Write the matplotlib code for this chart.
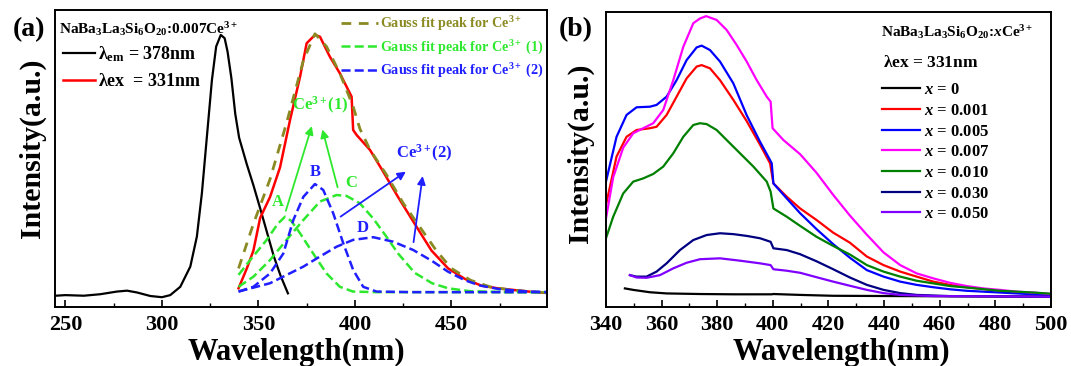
import matplotlib
matplotlib.use("Agg")
import matplotlib.pyplot as plt
from matplotlib.ticker import MultipleLocator

plt.rcParams['font.family'] = ['Liberation Serif', 'DejaVu Serif']
plt.rcParams['font.weight'] = 'bold'
plt.rcParams['mathtext.fontset'] = 'custom'
plt.rcParams['mathtext.rm'] = 'Liberation Serif:bold'
plt.rcParams['mathtext.it'] = 'Liberation Serif:italic:bold'
plt.rcParams['mathtext.bf'] = 'Liberation Serif:bold'
plt.rcParams['mathtext.default'] = 'rm'
plt.rcParams['lines.scale_dashes'] = False

# ---------------- Panel (a) data ----------------
ex_nm = [244.8, 250, 259.5, 268, 276.7, 281.9, 287, 294, 300, 304.3, 309.5, 314.7, 318.1, 320.7,
         323.3, 325.9, 328.1, 330.5, 332.5, 334, 336, 338, 340, 344, 347.4, 351, 354.5, 358, 361.5, 365.3]
ex_I = [0.038, 0.040, 0.038, 0.043, 0.052, 0.055, 0.049, 0.037, 0.033, 0.040, 0.068, 0.136, 0.237, 0.383,
        0.574, 0.764, 0.877, 0.916, 0.905, 0.86, 0.77, 0.65, 0.57, 0.48, 0.41, 0.33, 0.25, 0.17, 0.105, 0.046]

em_nm = [339.7, 344, 347.4, 350.9, 356, 361.2, 366.4, 371.6, 375, 379.3, 381.9, 387, 392.2, 398.3,
         399.1, 400.9, 407.8, 413.8, 422.4, 431, 439.7, 444, 448.3, 456.9, 465.5, 474, 482.8, 490, 500]
em_I = [0.063, 0.13, 0.19, 0.30, 0.37, 0.47, 0.63, 0.776, 0.888, 0.916, 0.91, 0.843, 0.787, 0.708,
        0.596, 0.579, 0.529, 0.465, 0.37, 0.28, 0.19, 0.16, 0.13, 0.095, 0.072, 0.063, 0.057, 0.052, 0.047]

fit_nm = [339.7, 347.4, 356, 364.6, 373.3, 379.3, 385.3, 392.2, 399.1, 402.6, 407.8, 416.4, 425,
          433.6, 442.2, 450, 460, 470, 480, 490, 500]
fit_I = [0.13, 0.28, 0.43, 0.62, 0.83, 0.92, 0.877, 0.787, 0.675, 0.6, 0.53, 0.445, 0.35, 0.27,
         0.19, 0.13, 0.09, 0.068, 0.058, 0.052, 0.048]

gA_nm = [339.7, 345.7, 354.3, 360, 363.8, 367, 371.6, 378.4, 385.3, 392.2, 399, 410, 430, 460, 500]
gA_I = [0.108, 0.158, 0.226, 0.28, 0.304, 0.29, 0.248, 0.18, 0.113, 0.068, 0.052, 0.05, 0.05, 0.05, 0.05]

gC_nm = [339.7, 347.4, 356, 364.6, 373.3, 381.9, 390.5, 395.7, 402.6, 409.5, 416, 422.4, 431, 440,
         448.3, 460, 480, 500]
gC_I = [0.068, 0.102, 0.158, 0.226, 0.293, 0.355, 0.377, 0.374, 0.349, 0.298, 0.24, 0.18, 0.115, 0.08,
        0.063, 0.053, 0.05, 0.05]

gB_nm = [339.7, 347.4, 356, 362.9, 368.1, 373.3, 379.3, 383.6, 388.8, 394, 399.1, 404.3, 411.2, 430, 460, 500]
gB_I = [0.052, 0.068, 0.113, 0.18, 0.293, 0.371, 0.414, 0.394, 0.315, 0.214, 0.125, 0.068, 0.052, 0.05, 0.05, 0.05]

gD_nm = [339.7, 356, 373.3, 381.9, 390.5, 399.1, 409.5, 419.8, 430.2, 440, 448, 457, 465, 475, 490, 500]
gD_I = [0.052, 0.08, 0.136, 0.17, 0.203, 0.226, 0.235, 0.22, 0.192, 0.155, 0.12, 0.09, 0.072, 0.06, 0.052, 0.05]

# ---------------- Panel (b) data ----------------
b_x0_nm = [346.8, 349.8, 355.8, 361.8, 373.8, 385.8, 399.6, 400.2, 409.8, 421.7, 445.8, 470, 500]
b_x0_I = [0.063, 0.058, 0.05, 0.046, 0.044, 0.043, 0.043, 0.044, 0.041, 0.038, 0.037, 0.036, 0.035]

b_x001_nm = [340, 343.8, 347.4, 351, 355.8, 358.2, 361.8, 365.4, 369, 372.6, 374.4, 377.4, 381, 385.8,
             390.6, 395.4, 399, 400.2, 405, 409.8, 415.7, 421.7, 427.7, 433.8, 439.8, 445.8, 451.7,
             457.7, 463.7, 469.7, 481.7, 493.7, 500]
b_x001_I = [0.346, 0.51, 0.577, 0.6, 0.606, 0.611, 0.651, 0.713, 0.775, 0.815, 0.82, 0.809, 0.769, 0.702,
            0.63, 0.55, 0.487, 0.419, 0.374, 0.334, 0.295, 0.252, 0.218, 0.171, 0.142, 0.12, 0.103,
            0.086, 0.075, 0.067, 0.055, 0.046, 0.043]

b_x005_nm = [340, 343.8, 347.4, 351, 355.8, 358.2, 361.8, 365.4, 369, 372.6, 374.4, 377.4, 381, 385.8,
             390.6, 395.4, 399, 399.6, 400.2, 405, 409.8, 415.7, 421.7, 427.7, 433.8, 439.8, 445.8,
             451.7, 457.7, 463.7, 469.7, 481.7, 493.7, 500]
b_x005_I = [0.425, 0.577, 0.651, 0.677, 0.679, 0.685, 0.713, 0.769, 0.837, 0.88, 0.886, 0.871, 0.832, 0.758,
            0.65, 0.56, 0.498, 0.487, 0.419, 0.368, 0.318, 0.264, 0.213, 0.167, 0.125, 0.103, 0.086,
            0.075, 0.067, 0.06, 0.055, 0.049, 0.043, 0.04]

b_x007_nm = [340, 342.6, 346.2, 349.8, 353.4, 357, 360.6, 364.2, 367.8, 371.4, 373.8, 376, 379.8, 383.4,
             387, 390.6, 394.2, 397.8, 399.2, 399.9, 403.8, 409.8, 415.7, 421.7, 427.7, 433.8, 439.8,
             445.8, 451.7, 457.7, 463.7, 469.7, 475.7, 481.7, 487.7, 493.7, 500]
b_x007_I = [0.30, 0.44, 0.54, 0.589, 0.606, 0.623, 0.668, 0.769, 0.882, 0.962, 0.978, 0.986, 0.973, 0.939,
            0.888, 0.832, 0.769, 0.713, 0.696, 0.606, 0.566, 0.518, 0.455, 0.38, 0.31, 0.245, 0.185,
            0.142, 0.114, 0.097, 0.082, 0.071, 0.063, 0.058, 0.052, 0.049, 0.044]

b_x010_nm = [340, 342.6, 346.2, 349.8, 353.4, 357, 360.6, 364.2, 367.8, 371.4, 373.8, 376.2, 379.8, 383.4,
             388.2, 393, 397.8, 399.2, 400.2, 405, 409.8, 415.7, 421.7, 427.7, 433.8, 439.8, 445.8,
             451.7, 457.7, 463.7, 469.7, 481.7, 493.7, 500]
b_x010_I = [0.233, 0.306, 0.385, 0.425, 0.436, 0.451, 0.476, 0.521, 0.577, 0.617, 0.623, 0.62, 0.6, 0.566,
            0.521, 0.476, 0.425, 0.391, 0.334, 0.306, 0.275, 0.238, 0.207, 0.178, 0.142, 0.12, 0.103,
            0.089, 0.08, 0.071, 0.066, 0.055, 0.049, 0.045]

b_x030_nm = [348.6, 351, 354.6, 358.2, 361.8, 366.6, 371.4, 376.2, 381, 385.8, 390.6, 395.4, 399.2, 400.2,
             405, 409.8, 415.7, 421.7, 427.7, 433.8, 439.8, 445.8, 451.7, 463.7, 480, 500]
b_x030_I = [0.108, 0.103, 0.103, 0.12, 0.148, 0.193, 0.227, 0.244, 0.25, 0.247, 0.241, 0.233, 0.221, 0.199,
            0.193, 0.179, 0.155, 0.128, 0.1, 0.075, 0.058, 0.047, 0.041, 0.037, 0.036, 0.035]

b_x050_nm = [348.6, 351, 354.6, 359.4, 364.2, 369, 373.8, 381, 388.2, 395.4, 399.2, 400.2, 405, 409.8,
             415.7, 421.7, 427.7, 433.8, 439.8, 445.8, 457.7, 480, 500]
b_x050_I = [0.108, 0.1, 0.099, 0.108, 0.131, 0.15, 0.162, 0.165, 0.157, 0.148, 0.142, 0.128, 0.123, 0.116,
            0.101, 0.086, 0.072, 0.058, 0.047, 0.041, 0.037, 0.036, 0.035]

b_labels = ['0', '0.001', '0.005', '0.007', '0.010', '0.030', '0.050']
b_colors = ['#000000', '#ff0000', '#0000ff', '#ff00ff', '#008000', '#000080', '#8000ff']
b_series = [(b_x0_nm, b_x0_I), (b_x001_nm, b_x001_I), (b_x005_nm, b_x005_I), (b_x007_nm, b_x007_I),
            (b_x010_nm, b_x010_I), (b_x030_nm, b_x030_I), (b_x050_nm, b_x050_I)]

GREEN = '#2ee82e'
BLUE = '#1f1fff'
OLIVE = '#8b8a22'

fig = plt.figure(figsize=(10.71, 3.66), dpi=100)
axA = fig.add_axes([0.0514, 0.1612, 0.4594, 0.8115])
axB = fig.add_axes([0.5658, 0.1612, 0.4155, 0.806])

for ax in (axA, axB):
    for s in ax.spines.values():
        s.set_linewidth(1.4)
    ax.set_yticks([])
    ax.tick_params(axis='x', which='major', direction='in', length=5, width=1.2,
                   labelsize=16, pad=6)
    ax.tick_params(axis='x', which='minor', direction='in', length=3, width=1.0)
    ax.set_ylim(0, 1)

# ---------- panel (a) ----------
axA.set_xlim(244.6, 499.6)
axA.xaxis.set_major_locator(MultipleLocator(50))
axA.xaxis.set_minor_locator(MultipleLocator(25))

lblk, = axA.plot(ex_nm, ex_I, color='black', lw=1.6, label=r'$\lambda_{em}$ = 378nm')
lred, = axA.plot(em_nm, em_I, color='red', lw=1.8, label=r'$\lambda$ex  = 331nm')
lfit, = axA.plot(fit_nm, fit_I, color=OLIVE, lw=2.0, dashes=(7, 5.5),
                 label=r'Gauss fit peak for Ce$^{3+}$')
lg1, = axA.plot(gA_nm, gA_I, color=GREEN, lw=1.8, dashes=(6.5, 3),
                label=r'Gauss fit peak for Ce$^{3+}$ (1)')
axA.plot(gC_nm, gC_I, color=GREEN, lw=1.8, dashes=(6.5, 3))
lb1, = axA.plot(gB_nm, gB_I, color=BLUE, lw=1.8, dashes=(6.5, 3),
                label=r'Gauss fit peak for Ce$^{3+}$ (2)')
axA.plot(gD_nm, gD_I, color=BLUE, lw=1.8, dashes=(6.5, 3))

# annotations
arrow_kw = dict(arrowstyle='-|>', lw=1.3, mutation_scale=12)
axA.annotate('', xy=(378.1, 0.618), xytext=(363.8, 0.315),
             arrowprops=dict(color=GREEN, **arrow_kw))
axA.annotate('', xy=(382.8, 0.607), xytext=(391.4, 0.394),
             arrowprops=dict(color=GREEN, **arrow_kw))
axA.annotate('', xy=(427.6, 0.461), xytext=(391.4, 0.299),
             arrowprops=dict(color=BLUE, **arrow_kw))
axA.annotate('', xy=(435.3, 0.45), xytext=(430.2, 0.209),
             arrowprops=dict(color=BLUE, **arrow_kw))
axA.text(381.9, 0.68, r'Ce$^{3+}$(1)', color=GREEN, fontsize=12, ha='center', va='center')
axA.text(436.2, 0.517, r'Ce$^{3+}$(2)', color=BLUE, fontsize=12, ha='center', va='center')
axA.text(360.3, 0.355, 'A', color=GREEN, fontsize=12, ha='center', va='center')
axA.text(379.3, 0.456, 'B', color=BLUE, fontsize=12, ha='center', va='center')
axA.text(398.3, 0.419, 'C', color=GREEN, fontsize=12, ha='center', va='center')
axA.text(404.3, 0.265, 'D', color=BLUE, fontsize=12, ha='center', va='center')

axA.text(0.008, 0.937, r'NaBa$_3$La$_3$Si$_6$O$_{20}$:0.007Ce$^{3+}$', transform=axA.transAxes,
         fontsize=11, ha='left', va='center')
legA1 = axA.legend(handles=[lblk, lred], loc='upper left', bbox_to_anchor=(0.016, 0.885),
                   frameon=False, fontsize=13, handlelength=1.8, handletextpad=0.12,
                   borderpad=0, borderaxespad=0, labelspacing=0.5)
axA.add_artist(legA1)
axA.legend(handles=[lfit, lg1, lb1], loc='upper left', bbox_to_anchor=(0.581, 0.985),
           frameon=False, fontsize=10.2, handlelength=2.6, handletextpad=0.14,
           borderpad=0, borderaxespad=0, labelspacing=0.35, labelcolor='linecolor')

axA.set_xlabel('Wavelength(nm)', fontsize=22, fontweight='bold')
axA.set_ylabel('Intensity(a.u.)', fontsize=21.5, fontweight='bold')
axA.yaxis.set_label_coords(-0.019, 0.535)
axA.xaxis.set_label_coords(0.49, -0.105)

# ---------- panel (b) ----------
axB.set_xlim(340, 500)
axB.xaxis.set_major_locator(MultipleLocator(20))
axB.xaxis.set_minor_locator(MultipleLocator(10))
handlesB = []
for (nm, I), c, lab in zip(b_series, b_colors, b_labels):
    h, = axB.plot(nm, I, color=c, lw=1.6, label=r'$\mathit{x}$ = ' + lab)
    handlesB.append(h)

axB.text(0.617, 0.933, r'NaBa$_3$La$_3$Si$_6$O$_{20}$:$\mathit{x}$Ce$^{3+}$', transform=axB.transAxes,
         fontsize=11, ha='left', va='center')
axB.text(0.622, 0.827, r'$\lambda$ex = 331nm', transform=axB.transAxes,
         fontsize=12.5, ha='left', va='center')
axB.legend(handles=handlesB, loc='upper left', bbox_to_anchor=(0.62, 0.762),
           frameon=False, fontsize=12, handlelength=2.3, handletextpad=0.2,
           borderpad=0, borderaxespad=0, labelspacing=0.28)

axB.set_xlabel('Wavelength(nm)', fontsize=22, fontweight='bold')
axB.set_ylabel('Intensity(a.u.)', fontsize=21.5, fontweight='bold')
axB.yaxis.set_label_coords(-0.027, 0.52)
axB.xaxis.set_label_coords(0.53, -0.105)

fig.text(0.027, 0.918, '(a)', fontsize=20, fontweight='bold', ha='center', va='center')
fig.text(0.538, 0.918, '(b)', fontsize=20, fontweight='bold', ha='center', va='center')

fig.savefig('out.png', dpi=100)
